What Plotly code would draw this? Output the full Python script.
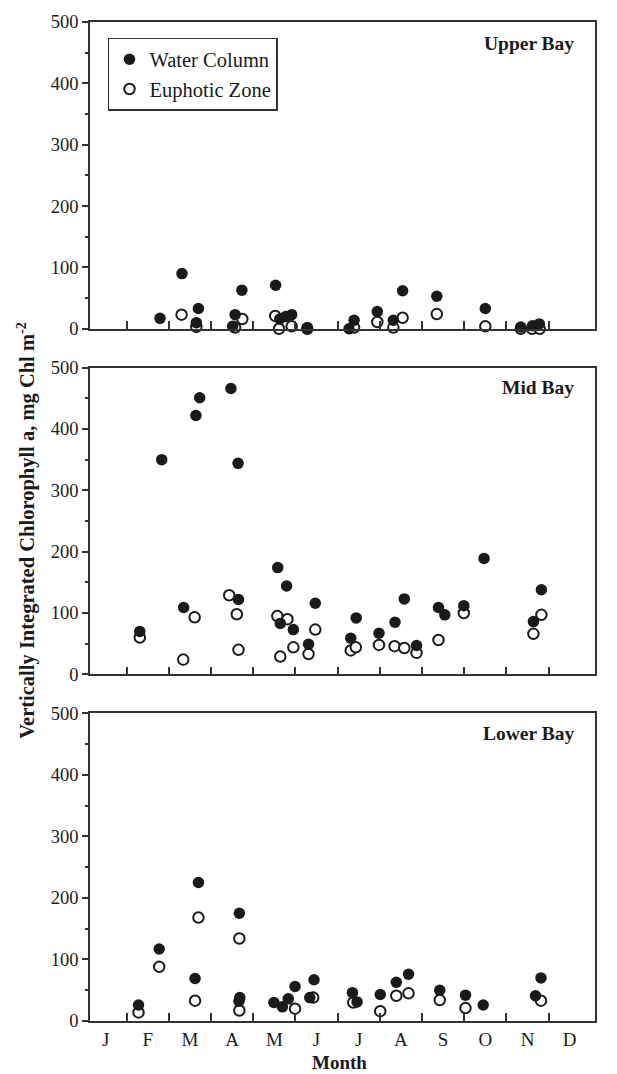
import plotly.graph_objects as go

# Month positions (decimal months, 0 = Jan 1) and values (mg Chl m-2)
months = ["J", "F", "M", "A", "M", "J", "J", "A", "S", "O", "N", "D"]
month_centers = [i + 0.5 for i in range(12)]
month_bounds = list(range(1, 12))
y_ticks = [0, 100, 200, 300, 400, 500]

# Upper Bay
upper_wc_x = [1.79, 2.31, 2.70, 2.65, 3.51, 3.57, 3.73, 4.53, 4.63, 4.77, 4.91, 5.28,
              6.27, 6.39, 6.94, 7.32, 7.54, 8.35, 9.50, 10.34, 10.62, 10.78]
upper_wc_y = [17, 90, 33, 10, 4, 23, 63, 71, 16, 20, 23, 2,
              0, 14, 28, 14, 62, 53, 33, 3, 5, 8]
upper_ez_x = [2.30, 2.65, 3.57, 3.74, 4.52, 4.61, 4.91, 5.28, 6.39, 6.94, 7.32, 7.54,
              8.35, 9.50, 10.34, 10.61, 10.79]
upper_ez_y = [23, 3, 2, 16, 21, 0, 4, 0, 2, 11, 2, 18,
              24, 4, 0, 0, 0]

# Mid Bay
mid_wc_x = [1.31, 1.83, 2.35, 2.64, 2.73, 3.47, 3.64, 3.65, 4.58, 4.64, 4.79, 4.95, 5.31,
            5.47, 6.31, 6.44, 6.98, 7.36, 7.58, 7.87, 8.39, 8.54, 8.99, 9.47, 10.64, 10.83]
mid_wc_y = [70, 350, 109, 422, 451, 466, 344, 122, 174, 83, 144, 73, 49,
            116, 59, 92, 67, 85, 123, 47, 109, 97, 112, 189, 86, 138]
mid_ez_x = [1.31, 2.34, 2.61, 3.43, 3.61, 3.65, 4.57, 4.64, 4.81, 4.95, 5.31, 5.47,
            6.31, 6.43, 6.98, 7.35, 7.58, 7.87, 8.39, 8.99, 10.64, 10.83]
mid_ez_y = [60, 24, 93, 129, 98, 40, 95, 29, 90, 44, 33, 73,
            39, 44, 48, 46, 43, 35, 56, 100, 66, 97]

# Lower Bay
lower_wc_x = [1.28, 1.77, 2.62, 2.70, 3.67, 3.68, 3.66, 4.49, 4.69, 4.83, 4.99, 5.34, 5.44,
              6.35, 6.46, 7.01, 7.39, 7.68, 8.42, 9.03, 9.45, 10.69, 10.82]
lower_wc_y = [26, 117, 69, 225, 175, 38, 32, 30, 23, 36, 56, 38, 67,
              46, 31, 43, 63, 76, 50, 42, 26, 41, 70]
lower_ez_x = [1.28, 1.77, 2.62, 2.70, 3.67, 3.67, 4.99, 5.42, 6.37, 7.01, 7.39, 7.68,
              8.42, 9.03, 10.82]
lower_ez_y = [14, 88, 33, 168, 17, 134, 20, 38, 30, 16, 41, 45,
              34, 21, 33]

panels = [
    ("Upper Bay", upper_wc_x, upper_wc_y, upper_ez_x, upper_ez_y),
    ("Mid Bay", mid_wc_x, mid_wc_y, mid_ez_x, mid_ez_y),
    ("Lower Bay", lower_wc_x, lower_wc_y, lower_ez_x, lower_ez_y),
]

FONT = "Liberation Serif"
INK = "#1a1a1a"
LINE = "#333333"

fig = go.Figure()

domains = [[0.6929, 1.0], [0.347, 0.654], [0.0, 0.308]]
label_y = [0.978, 0.634, 0.288]

for i, (name, wx, wy, ex, ey) in enumerate(panels):
    n = i + 1
    xa = "x" if n == 1 else f"x{n}"
    ya = "y" if n == 1 else f"y{n}"
    fig.add_trace(go.Scatter(
        x=ex, y=ey, mode="markers", name="Euphotic Zone", xaxis=xa, yaxis=ya,
        marker=dict(size=10.5, color="white", line=dict(color=INK, width=2)),
        showlegend=(n == 1), legendrank=2, cliponaxis=False))
    fig.add_trace(go.Scatter(
        x=wx, y=wy, mode="markers", name="Water Column", xaxis=xa, yaxis=ya,
        marker=dict(size=11.5, color=INK, line=dict(width=0)),
        showlegend=(n == 1), legendrank=1, cliponaxis=False))

    xkey = "xaxis" if n == 1 else f"xaxis{n}"
    ykey = "yaxis" if n == 1 else f"yaxis{n}"
    fig.update_layout({
        xkey: dict(
            domain=[0, 1], anchor=ya, range=[0.13, 12.1],
            tickmode="array", tickvals=month_centers, ticktext=months,
            ticks="", showticklabels=(n == 3), ticklabelstandoff=0,
            minor=dict(tickmode="array", tickvals=month_bounds, ticks="inside",
                       ticklen=8, tickwidth=1.5, tickcolor=LINE),
            showline=True, mirror=True, linecolor=LINE, linewidth=1.5,
            showgrid=False, zeroline=False,
            tickfont=dict(family=FONT, size=19, color=INK),
        ),
        ykey: dict(
            domain=domains[i], anchor=xa, range=[0, 500],
            tickmode="array", tickvals=y_ticks,
            ticks="outside", ticklen=6, tickwidth=1.5, tickcolor=LINE,
            minor=dict(dtick=50, tick0=0, ticks="outside", ticklen=3,
                       tickwidth=1.5, tickcolor=LINE),
            showline=True, mirror=True, linecolor=LINE, linewidth=1.5,
            showgrid=False, zeroline=False,
            tickfont=dict(family=FONT, size=18.5, color=INK),
        ),
    })
    fig.add_annotation(text=f"<b>{name}</b>", xref="paper", yref="paper",
                       x=0.962, y=label_y[i], xanchor="right", yanchor="middle",
                       showarrow=False, font=dict(family=FONT, size=19.5, color=INK))

fig.add_annotation(text="<b>Vertically Integrated Chlorophyll a, mg Chl m<sup>-2</sup></b>",
                   xref="paper", yref="paper", x=-0.125, y=0.4915, textangle=-90,
                   xanchor="center", yanchor="middle", showarrow=False,
                   font=dict(family=FONT, size=20.5, color=INK))
fig.add_annotation(text="<b>Month</b>", xref="paper", yref="paper",
                   x=0.495, y=-0.042, xanchor="center", yanchor="middle",
                   showarrow=False, font=dict(family=FONT, size=19, color=INK))

fig.update_layout(
    width=617, height=1074,
    margin=dict(l=90, r=22, t=18, b=53),
    paper_bgcolor="white", plot_bgcolor="white",
    showlegend=True,
    legend=dict(x=0.0356, y=0.984, xanchor="left", yanchor="top",
                bordercolor=LINE, borderwidth=1.5, bgcolor="white",
                font=dict(family=FONT, size=20.5, color=INK),
                tracegroupgap=0, itemwidth=30),
)

fig.write_html("out.html")
